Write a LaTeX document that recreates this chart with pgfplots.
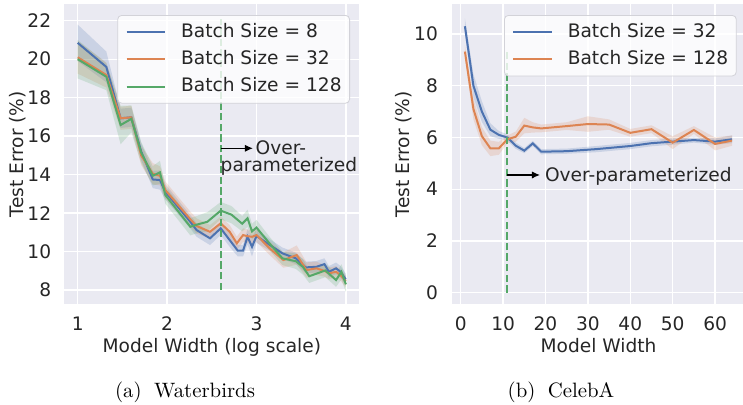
\documentclass[border=0pt]{standalone}
\usepackage{pgfplots}
\pgfplotsset{compat=1.18}
\usepackage{pgfplotstable}
\usepgfplotslibrary{fillbetween}
\usetikzlibrary{arrows.meta}
\usepackage{fontspec}
\newfontfamily\dejavu{DejaVu Sans}
\definecolor{sbblue}{HTML}{4C72B0}
\definecolor{sborange}{HTML}{DD8452}
\definecolor{sbgreen}{HTML}{55A868}
\definecolor{sbbg}{HTML}{EAEAF2}
\definecolor{sbtext}{HTML}{262626}
\definecolor{legedge}{HTML}{D2D2D8}

% Waterbirds, batch size 8
\pgfplotstableread{
x y e
1.00 20.85 0.95
1.32 19.60 0.80
1.48 16.93 0.50
1.60 16.98 0.50
1.71 15.20 0.45
1.84 13.75 0.45
1.92 13.72 0.50
1.98 13.11 0.40
2.26 11.55 0.35
2.33 11.12 0.35
2.48 10.69 0.35
2.60 11.21 0.35
2.70 10.60 0.35
2.79 10.05 0.30
2.85 10.05 0.30
2.90 10.77 0.40
2.95 10.25 0.50
3.00 10.81 0.35
3.15 10.34 0.30
3.29 9.91 0.30
3.44 9.65 0.30
3.55 9.18 0.30
3.67 9.21 0.30
3.76 9.35 0.30
3.81 8.95 0.30
3.89 9.13 0.30
3.94 8.95 0.30
4.00 8.55 0.30
}\wbA
% Waterbirds, batch size 32
\pgfplotstableread{
x y e
1.00 20.10 0.85
1.32 19.18 0.65
1.48 16.93 0.60
1.60 16.98 0.60
1.71 15.00 0.50
1.84 14.05 0.55
1.92 13.94 0.50
1.98 13.20 0.45
2.26 11.68 0.40
2.33 11.33 0.40
2.48 11.03 0.35
2.60 11.47 0.35
2.70 11.03 0.35
2.78 10.43 0.35
2.85 10.86 0.35
2.90 10.80 0.35
2.95 10.77 0.35
3.00 10.86 0.35
3.15 10.16 0.35
3.30 9.56 0.40
3.45 9.82 0.50
3.56 9.04 0.40
3.67 9.13 0.35
3.76 9.00 0.30
3.81 8.87 0.30
3.89 8.95 0.30
3.94 8.78 0.30
4.00 8.45 0.30
}\wbB
% Waterbirds, batch size 128
\pgfplotstableread{
x y e
1.00 20.00 1.00
1.32 19.09 0.70
1.48 16.58 1.00
1.60 16.90 0.70
1.71 15.15 0.55
1.84 13.94 0.50
1.92 14.12 0.60
1.98 12.94 0.45
2.26 11.29 0.45
2.33 11.40 0.45
2.45 11.55 0.50
2.60 12.13 0.45
2.72 11.92 0.45
2.84 11.45 0.40
2.90 11.73 0.45
2.95 11.05 0.40
3.00 11.25 0.40
3.15 10.40 0.35
3.29 9.65 0.35
3.44 9.50 0.40
3.52 9.20 0.40
3.59 8.72 0.35
3.77 9.02 0.35
3.89 8.52 0.35
3.95 8.95 0.40
4.00 8.30 0.40
}\wbC
% CelebA, batch size 32
\pgfplotstableread{
x y e
1 10.30 0.30
3 8.00 0.45
5 7.00 0.40
7 6.30 0.25
9 6.10 0.15
11 6.00 0.12
13 5.68 0.12
15 5.49 0.10
17 5.77 0.10
19 5.45 0.10
25 5.47 0.10
32 5.55 0.12
40 5.67 0.12
45 5.78 0.12
50 5.84 0.12
55 5.90 0.10
60 5.84 0.12
64 5.93 0.15
}\caA
% CelebA, batch size 128
\pgfplotstableread{
x y e
1 9.32 0.25
3 7.10 0.40
5 6.05 0.35
7 5.58 0.30
9 5.58 0.25
11 5.93 0.15
13 6.03 0.20
15 6.46 0.30
17 6.39 0.20
19 6.35 0.15
25 6.44 0.15
30 6.52 0.30
35 6.50 0.20
40 6.18 0.15
45 6.32 0.15
50 5.80 0.25
55 6.29 0.15
60 5.75 0.25
64 5.88 0.20
}\caB

\pgfplotsset{
  sbstyle/.style={
    scale only axis, clip=false, enlargelimits=false,
    axis background/.style={fill=sbbg},
    axis line style={draw=none},
    grid=major, major grid style={white, line width=0.7pt},
    major tick length=0pt, tick style={draw=none},
    /pgf/number format/assume math mode=true,
    xticklabel style={anchor=base, inner sep=0pt, yshift=-12.85pt, text=sbtext},
    yticklabel style={anchor=east, inner sep=0pt, xshift=-6.4pt, text=sbtext},
    every axis x label/.style={at={(rel axis cs:0.5,-0.1605)}, anchor=base, text=sbtext},
    every axis y label/.style={rotate=90, anchor=center, text=sbtext},
    legend cell align=left,
    legend style={draw=legedge, fill=white, fill opacity=0.8, text opacity=1,
      rounded corners=2pt, inner xsep=4pt, inner ysep=3.8pt,
      row sep=4.65pt, column sep=7.5pt, text=sbtext,
      nodes={inner sep=0pt, text height=7pt, text depth=2pt},
      at={(rel axis cs:1,1)}, anchor=north east, yshift=-5.5pt},
    legend image code/.code={\draw[#1] (0pt,0pt) -- (19.2pt,0pt);},
    width=147.5pt, height=150.15pt,
  },
  band/.style={draw=none, forget plot},
  ser/.style={#1, line width=1pt, opacity=1},
}

\begin{document}
\dejavu\fontsize{9.3}{11.2}\selectfont
\begin{tikzpicture}
% ---------------- (a) Waterbirds
\begin{axis}[sbstyle, at={(32.15pt,-152.15pt)}, anchor=south west,
  xmin=0.85, xmax=4.15, ymin=7.26, ymax=22.87,
  xtick={1,2,3,4}, ytick={8,10,12,14,16,18,20,22},
  xlabel={Model Width (log scale)}, ylabel={Test Error (\%)},
  ylabel style={at={(rel axis cs:-0.1586,0.5)}},
  legend style={xshift=-4.65pt}]
\addplot[band, name path=au] table[x=x, y expr=\thisrow{y}+\thisrow{e}] {\wbA};
\addplot[band, name path=al] table[x=x, y expr=\thisrow{y}-\thisrow{e}] {\wbA};
\addplot[sbblue, fill opacity=0.2, draw=none, forget plot] fill between[of=au and al];
\addplot[ser=sbblue] table[x=x, y=y] {\wbA};
\addlegendentry{Batch Size = 8}
\addplot[band, name path=bu] table[x=x, y expr=\thisrow{y}+\thisrow{e}] {\wbB};
\addplot[band, name path=bl] table[x=x, y expr=\thisrow{y}-\thisrow{e}] {\wbB};
\addplot[sborange, fill opacity=0.2, draw=none, forget plot] fill between[of=bu and bl];
\addplot[ser=sborange] table[x=x, y=y] {\wbB};
\addlegendentry{Batch Size = 32}
\addplot[band, name path=cu] table[x=x, y expr=\thisrow{y}+\thisrow{e}] {\wbC};
\addplot[band, name path=cl] table[x=x, y expr=\thisrow{y}-\thisrow{e}] {\wbC};
\addplot[sbgreen, fill opacity=0.2, draw=none, forget plot] fill between[of=cu and cl];
\addplot[ser=sbgreen] table[x=x, y=y] {\wbC};
\addlegendentry{Batch Size = 128}
\addplot[sbgreen, line width=1.1pt, dash pattern=on 3.7pt off 1.6pt, forget plot] coordinates {(2.6,8) (2.6,22.1)};
\draw[-{Latex[length=4pt,width=3.6pt]}, line width=0.6pt, black] (axis cs:2.6,15.37) -- (axis cs:2.96,15.37);
\node[anchor=base west, inner sep=0pt, text=sbtext] at (axis cs:2.987,15.07) {Over-};
\node[anchor=base west, inner sep=0pt, text=sbtext] at (axis cs:2.595,14.15) {parameterized};
\end{axis}
% ---------------- (b) CelebA
\begin{axis}[sbstyle, at={(225.85pt,-152.15pt)}, anchor=south west, width=146.85pt,
  xmin=-2.12, xmax=67.15, ymin=-0.45, ymax=11.16,
  xtick={0,10,20,30,40,50,60}, ytick={0,2,4,6,8,10},
  xlabel={Model Width}, ylabel={Test Error (\%)},
  ylabel style={at={(rel axis cs:-0.1624,0.5)}},
  yticklabel style={xshift=-0.3pt},
  legend style={xshift=-4.35pt}]
\addplot[band, name path=du] table[x=x, y expr=\thisrow{y}+\thisrow{e}] {\caA};
\addplot[band, name path=dl] table[x=x, y expr=\thisrow{y}-\thisrow{e}] {\caA};
\addplot[sbblue, fill opacity=0.2, draw=none, forget plot] fill between[of=du and dl];
\addplot[ser=sbblue] table[x=x, y=y] {\caA};
\addlegendentry{Batch Size = 32}
\addplot[band, name path=eu] table[x=x, y expr=\thisrow{y}+\thisrow{e}] {\caB};
\addplot[band, name path=el] table[x=x, y expr=\thisrow{y}-\thisrow{e}] {\caB};
\addplot[sborange, fill opacity=0.2, draw=none, forget plot] fill between[of=eu and el];
\addplot[ser=sborange] table[x=x, y=y] {\caB};
\addlegendentry{Batch Size = 128}
\addplot[sbgreen, line width=1.1pt, dash pattern=on 3.7pt off 1.6pt, forget plot] coordinates {(11,0) (11,9.4)};
\draw[-{Latex[length=4pt,width=3.6pt]}, line width=0.6pt, black] (axis cs:11,4.55) -- (axis cs:18.7,4.55);
\node[anchor=base west, inner sep=0pt, text=sbtext] at (axis cs:19.8,4.28) {Over-parameterized};
\end{axis}
% captions
\node[font=\normalfont\fontsize{10.4}{12.5}\selectfont, anchor=base] at (92.5pt,-198.5pt) {(a)\hspace{0.6em}Waterbirds};
\node[font=\normalfont\fontsize{10.4}{12.5}\selectfont, anchor=base] at (280.5pt,-198.5pt) {(b)\hspace{0.6em}CelebA};
\pgfresetboundingbox
\path[use as bounding box] (0pt,0pt) rectangle (371.5pt,-202pt);
\end{tikzpicture}
\end{document}
